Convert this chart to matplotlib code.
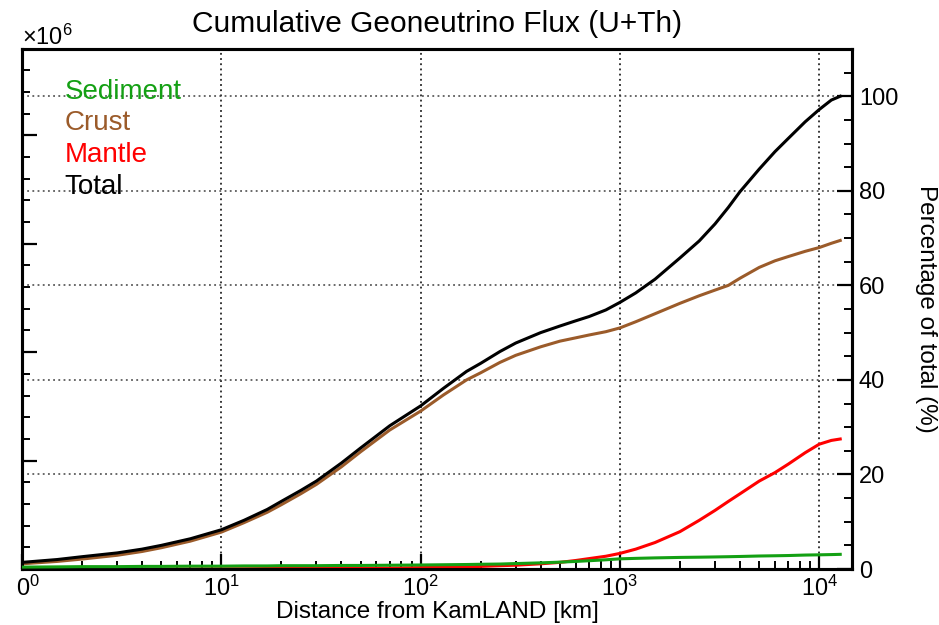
import numpy as np
import matplotlib
matplotlib.use("Agg")
import matplotlib.pyplot as plt
from matplotlib.patches import Rectangle
from matplotlib.ticker import MultipleLocator, ScalarFormatter, LogLocator

plt.rcParams["font.family"] = ["Liberation Sans", "DejaVu Sans"]
plt.rcParams["mathtext.fontset"] = "custom"
plt.rcParams["mathtext.rm"] = "Liberation Sans"
plt.rcParams["mathtext.it"] = "Liberation Sans:italic"
plt.rcParams["mathtext.bf"] = "Liberation Sans:bold"

# cumulative flux vs distance, as percentage of the total at 12742 km
distance_km = [1, 1.5, 2, 3, 4, 5, 7, 10, 13, 17, 20, 25, 30, 40, 50, 70,
               100, 130, 170, 200, 250, 300, 400, 500, 600, 700, 850, 1000,
               1200, 1500, 2000, 2500, 3000, 3500, 4000, 5000, 6000, 7000,
               8500, 10000, 11500, 12742]
sediment_pct = [0.4, 0.45, 0.5, 0.5, 0.55, 0.55, 0.6, 0.6, 0.65, 0.65, 0.7,
                0.7, 0.7, 0.75, 0.75, 0.8, 0.85, 0.9, 0.95, 1.0, 1.05, 1.15,
                1.3, 1.45, 1.6, 1.75, 1.95, 2.15, 2.25, 2.35, 2.45, 2.5, 2.55,
                2.6, 2.65, 2.75, 2.8, 2.85, 2.95, 3.0, 3.05, 3.1]
crust_pct = [1.1, 1.6, 2.1, 2.9, 3.7, 4.5, 5.9, 7.8, 9.8, 12.0, 13.6, 15.9,
             17.9, 21.6, 24.8, 29.4, 33.4, 36.8, 40.0, 41.5, 43.7, 45.2, 47.0,
             48.2, 48.9, 49.5, 50.2, 51.0, 52.3, 54.0, 56.2, 57.8, 59.0, 60.0,
             61.5, 63.8, 65.2, 66.1, 67.2, 68.0, 68.9, 69.5]
mantle_pct = [0.0, 0.0, 0.0, 0.0, 0.0, 0.0, 0.0, 0.05, 0.05, 0.1, 0.1, 0.1,
              0.1, 0.15, 0.15, 0.2, 0.3, 0.35, 0.45, 0.55, 0.7, 0.8, 1.1, 1.4,
              1.8, 2.2, 2.7, 3.3, 4.2, 5.6, 7.9, 10.3, 12.4, 14.3, 15.9, 18.6,
              20.4, 22.2, 24.6, 26.4, 27.2, 27.5]
total_pct = [1.4, 2.0, 2.6, 3.4, 4.2, 5.0, 6.4, 8.3, 10.3, 12.6, 14.3, 16.6,
             18.6, 22.4, 25.6, 30.3, 34.5, 38.2, 41.8, 43.5, 46.0, 47.8, 50.0,
             51.4, 52.5, 53.4, 54.8, 56.4, 58.4, 61.3, 65.8, 69.4, 73.0, 76.5,
             79.8, 84.6, 88.3, 91.1, 94.6, 97.2, 99.2, 100.0]

total_flux = 4.36e6  # absolute scale of the 100% level (left axis)

series = [
    ("Sediment", sediment_pct, "#14a014", 3),
    ("Crust", crust_pct, "#9b5b2a", 2),
    ("Mantle", mantle_pct, "#ff0000", 2),
    ("Total", total_pct, "black", 4),
]

fig = plt.figure(figsize=(9.39, 6.25), dpi=100)
ax = fig.add_axes([22 / 939, 56 / 625, 830 / 939, 520 / 625])
ax.set_xscale("log")
ax.set_xlim(1, 1.46e4)
ax.set_ylim(0, 1.10 * total_flux)
ax.yaxis.set_major_locator(MultipleLocator(1e6))
ax.yaxis.set_minor_locator(MultipleLocator(2e5))
ax.yaxis.set_major_formatter(ScalarFormatter(useMathText=True))
ax.yaxis.get_offset_text().set_fontsize(17)
ax.xaxis.set_major_locator(LogLocator(base=10))
ax.xaxis.set_minor_locator(LogLocator(base=10, subs=np.arange(2, 10)))
ax.tick_params(axis="both", which="major", direction="in", length=11, width=1.6,
               labelsize=17, pad=5)
ax.tick_params(axis="both", which="minor", direction="in", length=6, width=1.4)
ax.tick_params(axis="x", top=False, which="both")
ax.tick_params(axis="y", right=False, which="both")
ax.grid(True, axis="x", which="major", linestyle=(0, (1.2, 2.2)), color="black",
        linewidth=1.1)
ax.set_xlabel("Distance from KamLAND [km]", fontsize=17.5, labelpad=0)

ax2 = ax.twinx()
ax2.set_ylim(0, 110)
ax2.yaxis.set_major_locator(MultipleLocator(20))
ax2.yaxis.set_minor_locator(MultipleLocator(5))
ax2.tick_params(axis="y", which="major", direction="in", length=11, width=1.6,
                labelsize=17, pad=5)
ax2.tick_params(axis="y", which="minor", direction="in", length=6, width=1.4)
ax2.grid(True, axis="y", which="major", linestyle=(0, (1.2, 2.2)), color="0.25",
         linewidth=1.1)
ax2.set_ylabel("Percentage of total (%)", fontsize=17.5, rotation=270,
               labelpad=28)

for name, vals, color, z in series:
    ax2.plot(distance_km, vals, color=color, lw=2.2, label=name, zorder=z)

for a in (ax, ax2):
    for s in a.spines.values():
        s.set_linewidth(2.2)

leg = ax2.legend(loc="upper left", bbox_to_anchor=(0.028, 0.98), frameon=False,
                 handlelength=0, handletextpad=0, labelcolor="linecolor",
                 fontsize=20, labelspacing=0.2, borderaxespad=0.3)
for h in leg.legend_handles:
    h.set_visible(False)

ax.set_title("Cumulative Geoneutrino Flux (U+Th)", fontsize=21.5, pad=12)

# the left margin strip is blank, so the flux tick labels sit off the edge
fig.add_artist(Rectangle((0, 0), 16 / 939, 1, transform=fig.transFigure,
                         facecolor="white", edgecolor="none", zorder=10))

fig.savefig("out.png", dpi=100)
